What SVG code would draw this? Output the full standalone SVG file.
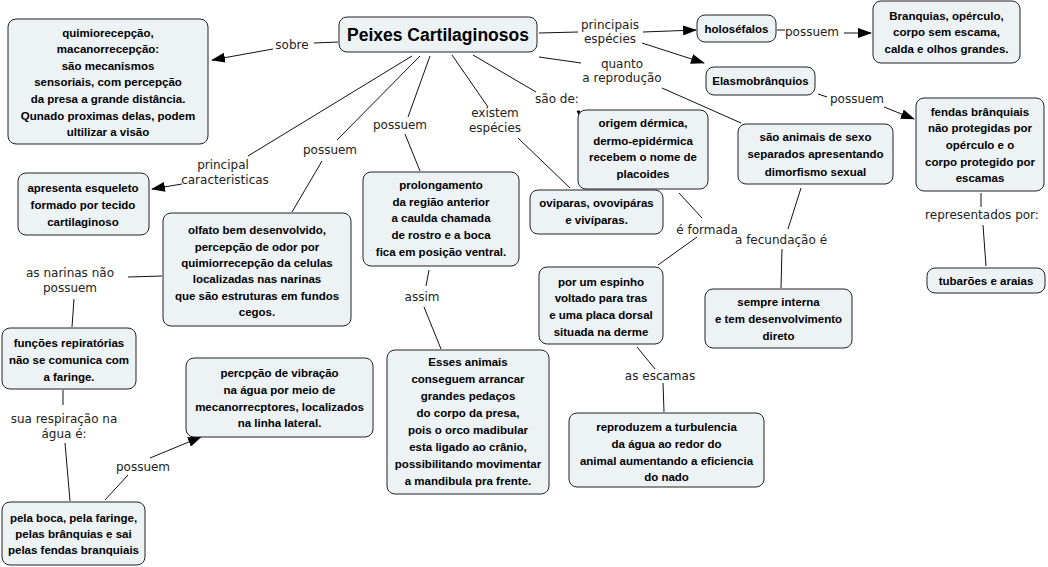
<svg xmlns="http://www.w3.org/2000/svg" width="1048" height="567" viewBox="0 0 1048 567">
<style>
.box{fill:#edf2f4;stroke:#222;stroke-width:1}
.nt{font-family:"Liberation Sans",Arial,sans-serif;font-weight:bold;font-size:11.5px;fill:#000;text-anchor:middle}
.lb{font-family:"DejaVu Sans",Verdana,sans-serif;font-size:12px;fill:#222;text-anchor:middle}
.ln{stroke:#111;stroke-width:1;fill:none}
.ar{stroke:#111;stroke-width:1;fill:none;marker-end:url(#ah)}
</style>
<defs>
<marker id="ah" markerUnits="userSpaceOnUse" markerWidth="14" markerHeight="10" refX="13" refY="5" orient="auto">
<path d="M0,0 L14,5 L0,10 Z" fill="#000"/>
</marker>
</defs>
<rect width="1048" height="567" fill="#fff"/>
<g id="connectors">
<path class="ln" d="M338,42 L314,43"/>
<path class="ar" d="M273,49 L212,60"/>
<path class="ln" d="M412,56 L248,156"/>
<path class="ar" d="M182,184 L152,189"/>
<path class="ln" d="M420,56 L337,140"/>
<path class="ln" d="M322,161 L292,212"/>
<path class="ln" d="M430,56 L408,117"/>
<path class="ln" d="M405,134 L420,171"/>
<path class="ln" d="M452,55 L488,107"/>
<path class="ln" d="M518,138 L570,188"/>
<path class="ln" d="M473,55 L536,92"/>
<path d="M577,111 L580,111 L579,115 Z" fill="#000" stroke="#000" stroke-width="0.8"/>
<path class="ln" d="M539,57 L581,63"/>
<path class="ln" d="M662,88 L741,123"/>
<path class="ln" d="M539,33 L578,32"/>
<path class="ar" d="M643,32 L696,30"/>
<path class="ar" d="M642,43 L704,63"/>
<path class="ln" d="M777,30 L785,30"/>
<path class="ar" d="M844,33 L871,33"/>
<path class="ln" d="M818,94 L827,97"/>
<path class="ar" d="M884,107 L914,119"/>
<path class="ln" d="M128,277 L162,276"/>
<path class="ln" d="M74,299 L72,327"/>
<path class="ln" d="M63,390 L63,405"/>
<path class="ln" d="M65,443 L70,501"/>
<path class="ln" d="M105,500 L128,475"/>
<path class="ar" d="M150,458 L201,437"/>
<path class="ln" d="M429,270 L426,286"/>
<path class="ln" d="M424,307 L441,349"/>
<path class="ln" d="M679,193 L702,218"/>
<path class="ln" d="M697,237 L658,265"/>
<path class="ln" d="M801,188 L788,229"/>
<path class="ln" d="M782,249 L781,288"/>
<path class="ln" d="M981,193 L981,207"/>
<path class="ln" d="M983,225 L986,266"/>
<path class="ln" d="M637,347 L655,369"/>
<path class="ln" d="M663,383 L664,412"/>
</g>
<g id="labels">
<text class="lb" x="292" y="49">sobre</text>
<text class="lb" x="223" y="169">principal</text>
<text class="lb" x="225" y="184">caracteristicas</text>
<text class="lb" x="330" y="154">possuem</text>
<text class="lb" x="400" y="129">possuem</text>
<text class="lb" x="495" y="117">existem</text>
<text class="lb" x="495" y="132">espécies</text>
<text class="lb" x="557" y="103">são de:</text>
<text class="lb" x="622" y="68">quanto</text>
<text class="lb" x="622" y="82">a reprodução</text>
<text class="lb" x="610" y="29">principais</text>
<text class="lb" x="610" y="43">espécies</text>
<text class="lb" x="812" y="36">possuem</text>
<text class="lb" x="857" y="103">possuem</text>
<text class="lb" x="707" y="234">é formada</text>
<text class="lb" x="781" y="244">a fecundação é</text>
<text class="lb" x="982" y="219">representados por:</text>
<text class="lb" x="70" y="277">as narinas não</text>
<text class="lb" x="70" y="292">possuem</text>
<text class="lb" x="422" y="301">assim</text>
<text class="lb" x="660" y="380">as escamas</text>
<text class="lb" x="64" y="423">sua respiração na</text>
<text class="lb" x="64" y="438">água é:</text>
<text class="lb" x="143" y="471">possuem</text>
</g>
<g id="n-peixes">
<rect class="box" x="339" y="17" width="198" height="35" rx="8"/>
<text class="nt" x="438" y="40.5" style="font-size:17.5px">Peixes Cartilaginosos</text>
</g>
<g id="n-quimio">
<rect class="box" x="8" y="19" width="200" height="125" rx="8"/>
<text class="nt"><tspan x="108" y="37">quimiorecepção,</tspan><tspan x="108" y="53">macanorrecepção:</tspan><tspan x="108" y="70">são mecanismos</tspan><tspan x="108" y="86">sensoriais, com percepção</tspan><tspan x="108" y="103">da presa a grande distância.</tspan><tspan x="108" y="120">Qunado proximas delas, podem</tspan><tspan x="108" y="136">ultilizar a visão</tspan></text>
</g>
<g id="n-apresenta">
<rect class="box" x="18" y="173" width="131" height="62" rx="8"/>
<text class="nt"><tspan x="83" y="192">apresenta esqueleto</tspan><tspan x="83" y="209">formado por tecido</tspan><tspan x="83" y="226">cartilaginoso</tspan></text>
</g>
<g id="n-olfato">
<rect class="box" x="163" y="213" width="188" height="113" rx="8"/>
<text class="nt"><tspan x="257" y="234">olfato bem desenvolvido,</tspan><tspan x="257" y="251">percepção de odor por</tspan><tspan x="257" y="267">quimiorrecepção da celulas</tspan><tspan x="257" y="283">localizadas nas narinas</tspan><tspan x="257" y="300">que são estruturas em fundos</tspan><tspan x="257" y="316">cegos.</tspan></text>
</g>
<g id="n-funcoes">
<rect class="box" x="2" y="328" width="134" height="61" rx="8"/>
<text class="nt"><tspan x="69" y="347">funções repiratórias</tspan><tspan x="69" y="364">não se comunica com</tspan><tspan x="69" y="381">a faringe.</tspan></text>
</g>
<g id="n-pelaboca">
<rect class="box" x="2" y="502" width="143" height="63" rx="8"/>
<text class="nt"><tspan x="73.5" y="522">pela boca, pela faringe,</tspan><tspan x="73.5" y="538">pelas brânquias e sai</tspan><tspan x="73.5" y="554">pelas fendas branquiais</tspan></text>
</g>
<g id="n-percpcao">
<rect class="box" x="186" y="358" width="187" height="79" rx="8"/>
<text class="nt"><tspan x="279.5" y="377">percpção de vibração</tspan><tspan x="279.5" y="394">na água por meio de</tspan><tspan x="279.5" y="411">mecanorrecptores, localizados</tspan><tspan x="279.5" y="427">na linha lateral.</tspan></text>
</g>
<g id="n-prolongamento">
<rect class="box" x="363" y="172" width="156" height="94" rx="8"/>
<text class="nt"><tspan x="441" y="189">prolongamento</tspan><tspan x="441" y="206">da região anterior</tspan><tspan x="441" y="222">a caulda chamada</tspan><tspan x="441" y="239">de rostro e a boca</tspan><tspan x="441" y="256">fica em posição ventral.</tspan></text>
</g>
<g id="n-esses">
<rect class="box" x="387" y="350" width="162" height="144" rx="8"/>
<text class="nt"><tspan x="468" y="366">Esses animais</tspan><tspan x="468" y="383">conseguem arrancar</tspan><tspan x="468" y="400">grandes pedaços</tspan><tspan x="468" y="417">do corpo da presa,</tspan><tspan x="468" y="434">pois o orco madibular</tspan><tspan x="468" y="451">esta ligado ao crânio,</tspan><tspan x="468" y="468">possibilitando movimentar</tspan><tspan x="468" y="485">a mandibula pra frente.</tspan></text>
</g>
<g id="n-oviparas">
<rect class="box" x="530" y="190" width="133" height="44" rx="8"/>
<text class="nt"><tspan x="596.5" y="207">oviparas, ovovipáras</tspan><tspan x="596.5" y="224">e vivíparas.</tspan></text>
</g>
<g id="n-origem">
<rect class="box" x="578" y="110" width="130" height="79" rx="8"/>
<text class="nt"><tspan x="643" y="127">origem dérmica,</tspan><tspan x="643" y="145">dermo-epidérmica</tspan><tspan x="643" y="161">recebem o nome de</tspan><tspan x="643" y="178">placoides</tspan></text>
</g>
<g id="n-espinho">
<rect class="box" x="539" y="267" width="124" height="77" rx="8"/>
<text class="nt"><tspan x="601" y="286">por um espinho</tspan><tspan x="601" y="302">voltado para tras</tspan><tspan x="601" y="319">e uma placa dorsal</tspan><tspan x="601" y="336">situada na derme</tspan></text>
</g>
<g id="n-reproduzem">
<rect class="box" x="569" y="413" width="195" height="74" rx="8"/>
<text class="nt"><tspan x="666.5" y="431">reproduzem a turbulencia</tspan><tspan x="666.5" y="448">da água ao redor do</tspan><tspan x="666.5" y="465">animal aumentando a eficiencia</tspan><tspan x="666.5" y="481">do nado</tspan></text>
</g>
<g id="n-sexo">
<rect class="box" x="738" y="124" width="155" height="60" rx="8"/>
<text class="nt"><tspan x="815.5" y="141">são animais de sexo</tspan><tspan x="815.5" y="158">separados apresentando</tspan><tspan x="815.5" y="176">dimorfismo sexual</tspan></text>
</g>
<g id="n-sempre">
<rect class="box" x="705" y="289" width="147" height="59" rx="8"/>
<text class="nt"><tspan x="778.5" y="306">sempre interna</tspan><tspan x="778.5" y="323">e tem desenvolvimento</tspan><tspan x="778.5" y="340">direto</tspan></text>
</g>
<g id="n-holo">
<rect class="box" x="697" y="15" width="79" height="27" rx="8"/>
<text class="nt" x="736.5" y="33">holoséfalos</text>
</g>
<g id="n-branquias">
<rect class="box" x="873" y="1" width="147" height="62" rx="8"/>
<text class="nt"><tspan x="946.5" y="20">Branquias, opérculo,</tspan><tspan x="946.5" y="36">corpo sem escama,</tspan><tspan x="946.5" y="53">calda e olhos grandes.</tspan></text>
</g>
<g id="n-elasmo">
<rect class="box" x="706" y="67" width="109" height="28" rx="8"/>
<text class="nt" x="760.5" y="85">Elasmobrânquios</text>
</g>
<g id="n-fendas">
<rect class="box" x="916" y="98" width="128" height="93" rx="8"/>
<text class="nt"><tspan x="980" y="116">fendas brânquiais</tspan><tspan x="980" y="132">não protegidas por</tspan><tspan x="980" y="149">opérculo e o</tspan><tspan x="980" y="166">corpo protegido por</tspan><tspan x="980" y="182">escamas</tspan></text>
</g>
<g id="n-tubaroes">
<rect class="box" x="927" y="268" width="118" height="25" rx="8"/>
<text class="nt" x="986" y="285">tubarões e araias</text>
</g>
</svg>
